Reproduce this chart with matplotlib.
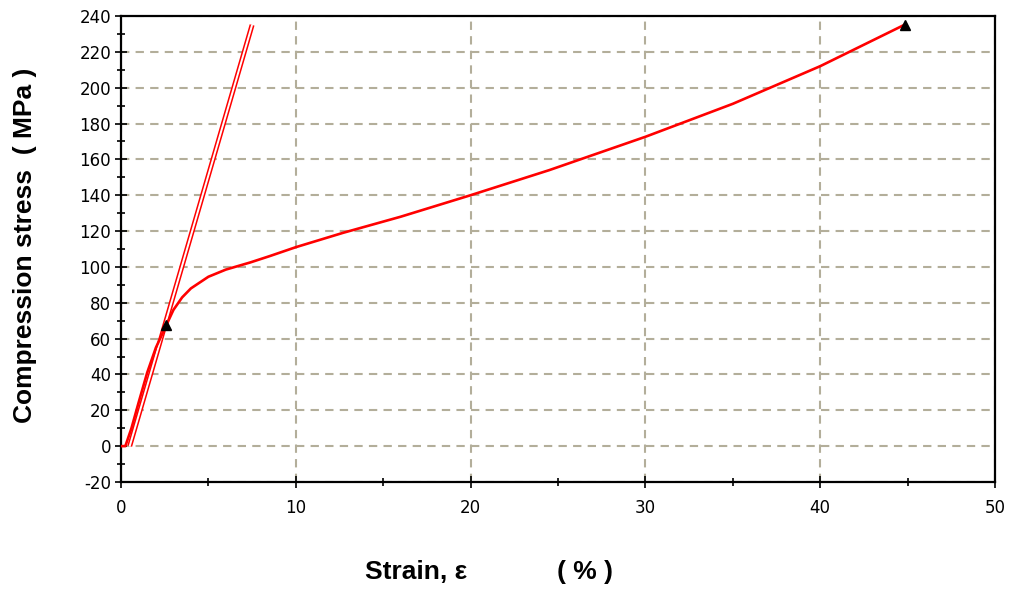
#!/usr/bin/env python3
'''compression stress-strain curve with offset modulus line'''
import numpy as np
import matplotlib
matplotlib.use('Agg')
import matplotlib.pyplot as plt
from matplotlib.ticker import MultipleLocator

plt.rcParams['axes.unicode_minus'] = False

strain = [0.0, 0.25, 0.6, 1.0, 1.5, 2.0, 2.6, 3.0, 3.5, 4.0, 5.0, 6.0, 7.4,
          8.5, 10.0, 12.7, 16.0, 20.0, 24.5, 30.0, 35.0, 40.0, 44.8]
stress = [0.0, 0.0, 10.0, 24.0, 41.0, 55.0, 67.6, 76.0, 83.0, 88.0, 94.5, 98.5,
          102.5, 106.0, 111.0, 119.0, 128.0, 140.0, 154.0, 172.6, 191.0, 212.0, 235.0]

# offset (modulus) line endpoints
offset_strain = [0.5, 7.5]
offset_stress = [0.0, 235.0]

# marked points: yield and final
mark_strain = [2.6, 44.85]
mark_stress = [67.6, 235.0]

fig = plt.figure(figsize=(10.14, 5.9), dpi=100)
ax = fig.add_axes([0.1193, 0.1831, 0.862, 0.7898])

# double red line: thick red with thin white core
ax.plot(offset_strain, offset_stress, color='red', lw=3.6, solid_capstyle='butt', zorder=3)
ax.plot(offset_strain, offset_stress, color='white', lw=1.4, solid_capstyle='butt', zorder=4)
ax.plot(strain, stress, color='red', lw=1.9, zorder=5)
ax.plot(mark_strain, mark_stress, '^', color='black', ms=7, zorder=6)

ax.set_xlim(0, 50)
ax.set_ylim(-20, 240)
ax.xaxis.set_major_locator(MultipleLocator(10))
ax.xaxis.set_minor_locator(MultipleLocator(5))
ax.yaxis.set_major_locator(MultipleLocator(20))
ax.yaxis.set_minor_locator(MultipleLocator(10))
ax.tick_params(which='major', direction='inout', length=8, width=1.2, labelsize=12, pad=3)
ax.tick_params(which='minor', direction='inout', length=6, width=1.2)
ax.tick_params(axis='x', pad=8)
for s in ax.spines.values():
    s.set_linewidth(1.6)

ax.grid(True, which='major', color='#b3ae9a', linestyle=(0, (4, 3)), lw=1.5, zorder=1)

fig.text(0.025, 0.585, 'Compression stress  ( MPa )', rotation=90, ha='center', va='center',
         fontsize=19, fontweight='bold', family='Liberation Sans')
fig.text(0.36, 0.03, 'Strain, ε', ha='left', va='center',
         fontsize=19, fontweight='bold', family='Liberation Sans')
fig.text(0.577, 0.03, '( % )', ha='center', va='center',
         fontsize=19, fontweight='bold', family='Liberation Sans')

fig.savefig('out.png', dpi=100)
